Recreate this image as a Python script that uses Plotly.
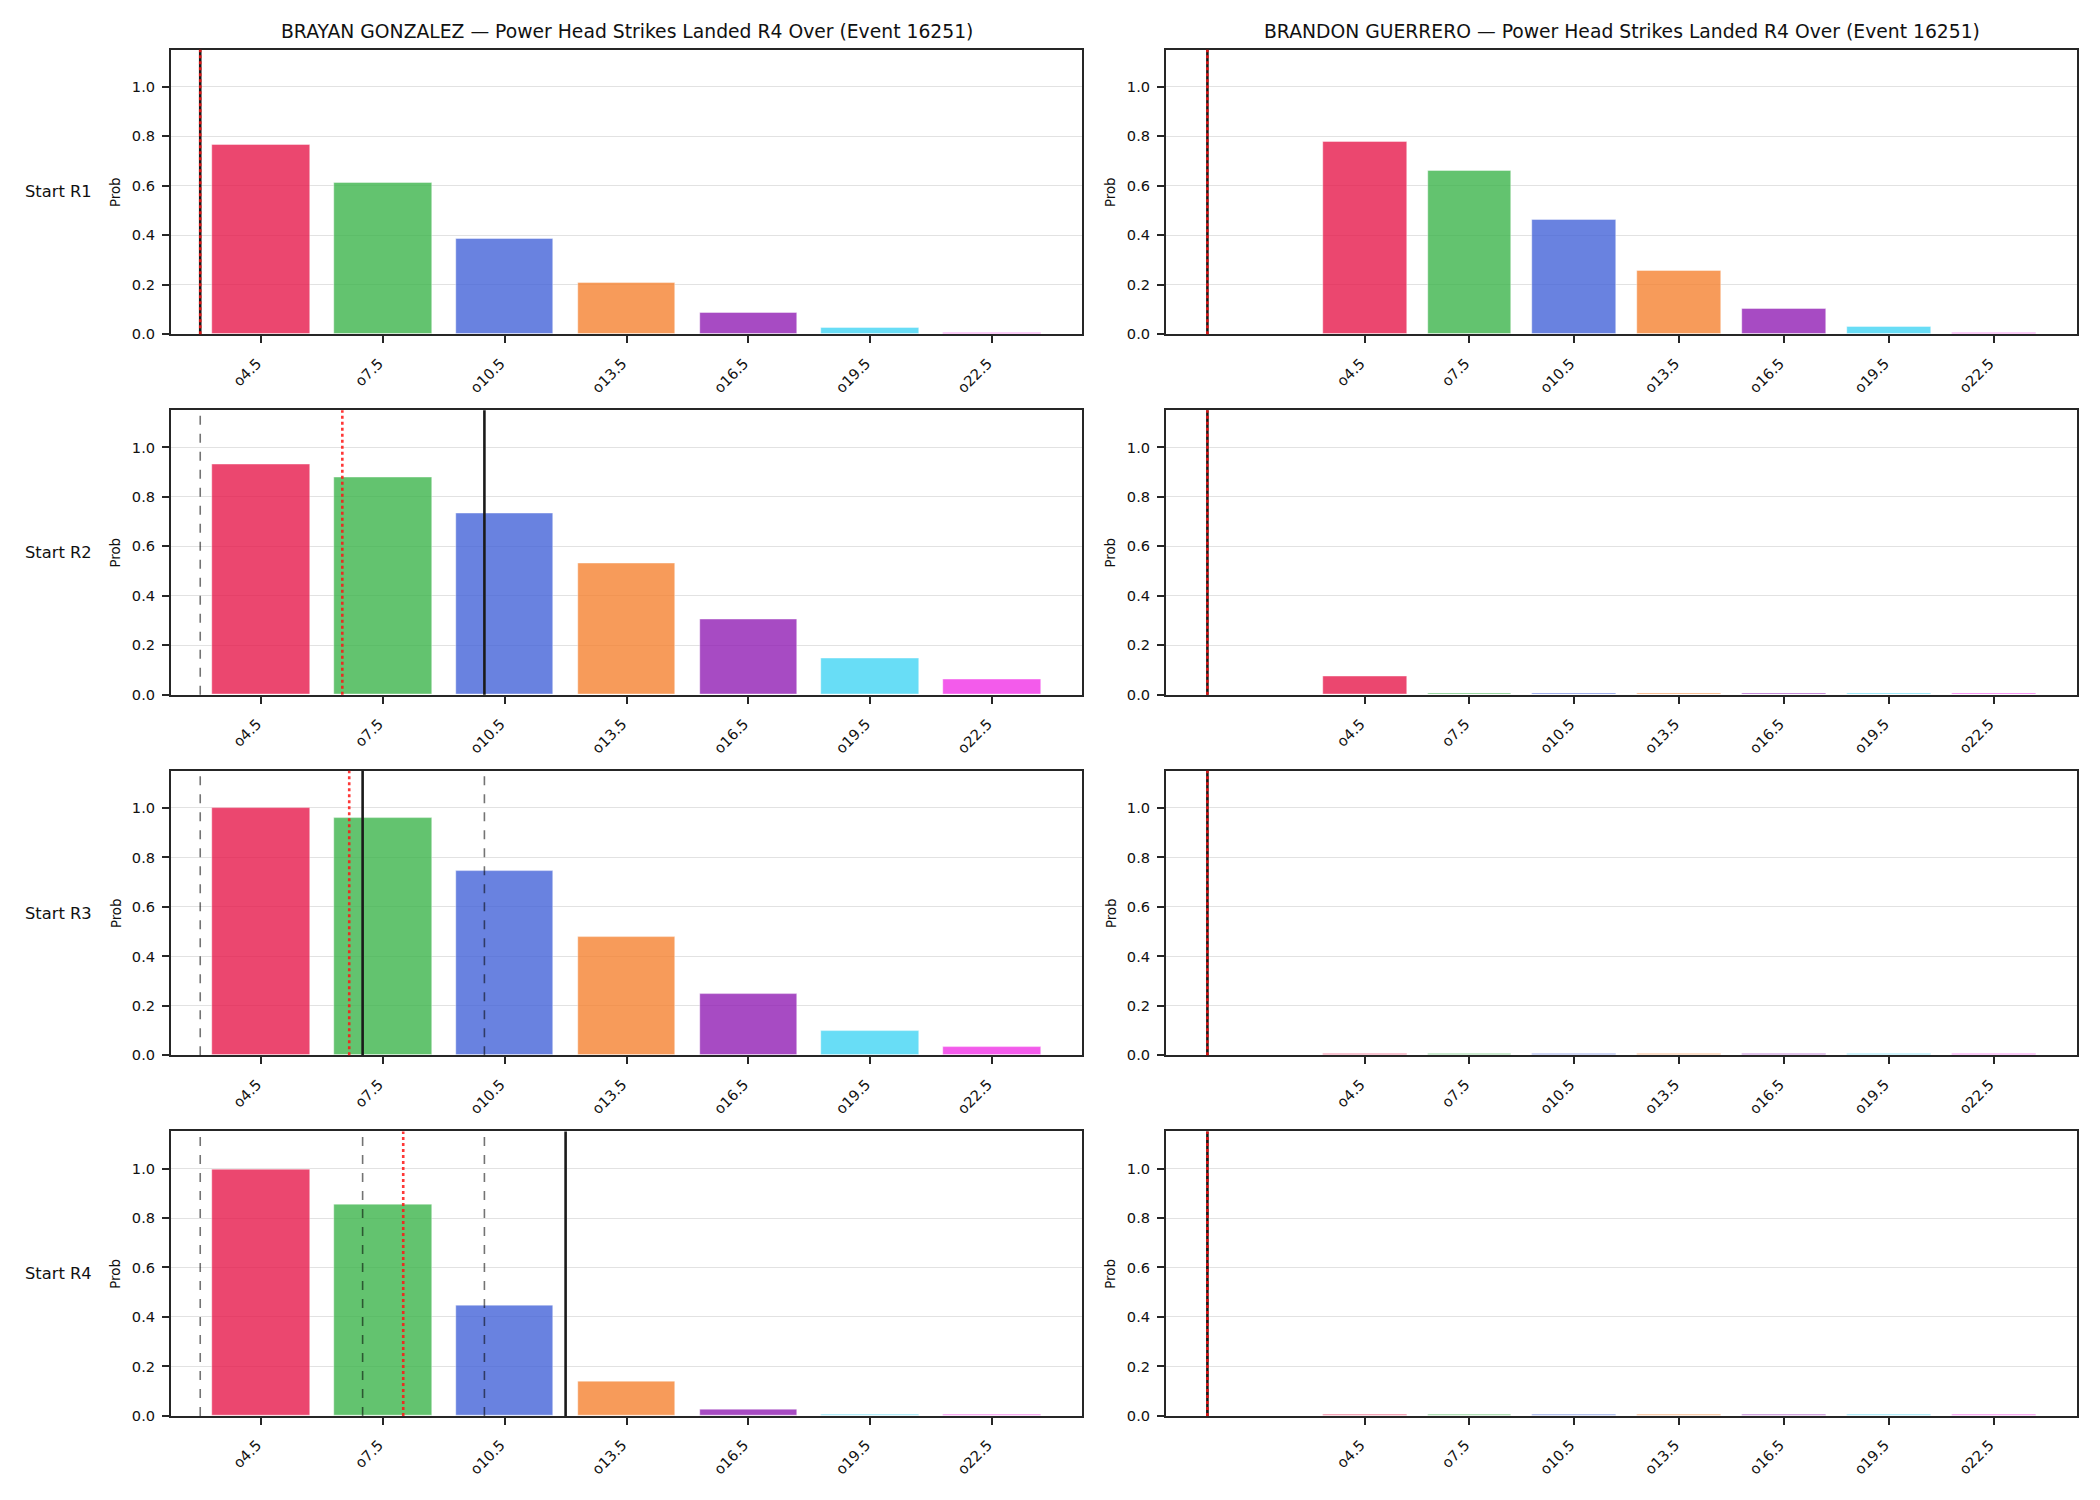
import plotly.graph_objects as go

# ---------------- data ----------------
thresholds = [4.5, 7.5, 10.5, 13.5, 16.5, 19.5, 22.5]
tick_labels = ["o4.5", "o7.5", "o10.5", "o13.5", "o16.5", "o19.5", "o22.5"]
row_labels = ["Start R1", "Start R2", "Start R3", "Start R4"]
fighters = ["BRAYAN GONZALEZ", "BRANDON GUERRERO"]
title_suffix = " — Power Head Strikes Landed R4 Over (Event 16251)"

bar_colors = ["#e6194b", "#3cb44b", "#4363d8", "#f58231", "#911eb4", "#42d4f4", "#f032e6"]

brayan_r1 = [0.768, 0.611, 0.385, 0.207, 0.085, 0.025, 0.007]
brayan_r2 = [0.932, 0.879, 0.734, 0.530, 0.307, 0.146, 0.062]
brayan_r3 = [0.999, 0.958, 0.745, 0.479, 0.248, 0.099, 0.035]
brayan_r4 = [0.996, 0.856, 0.447, 0.141, 0.027, 0.008, 0.008]

brandon_r1 = [0.780, 0.659, 0.462, 0.256, 0.103, 0.031, 0.008]
brandon_r2 = [0.076, 0.008, 0.008, 0.008, 0.008, 0.008, 0.008]
brandon_r3 = [0.008, 0.008, 0.008, 0.008, 0.008, 0.008, 0.008]
brandon_r4 = [0.008, 0.008, 0.008, 0.008, 0.008, 0.008, 0.008]

# reference markers (strike counts): prior actuals (gray dashed), current actual (black), projection (red dotted)
brayan_prior = [[], [3.0], [3.0, 10.0], [3.0, 10.0, 7.0]]
brayan_actual = [3.0, 10.0, 7.0, 12.0]
brayan_proj = [3.0, 6.5, 6.67, 8.0]

brandon_prior = [[], [0.0], [0.0, 0.0], [0.0, 0.0, 0.0]]
brandon_actual = [0.0, 0.0, 0.0, 0.0]
brandon_proj = [0.0, 0.0, 0.0, 0.0]

probs = [[brayan_r1, brayan_r2, brayan_r3, brayan_r4],
         [brandon_r1, brandon_r2, brandon_r3, brandon_r4]]
priors = [brayan_prior, brandon_prior]
actuals = [brayan_actual, brandon_actual]
projs = [brayan_proj, brandon_proj]
x_ranges = [[2.28, 24.72], [-1.185, 24.885]]

# ---------------- layout geometry ----------------
W, H = 2100, 1500
col_px = [(171, 1082), (1166, 2077)]
row_tops = [50, 412.5, 775, 1137.5]
ax_h = 286

def rgba(hexc, a):
    hexc = hexc.lstrip("#")
    r, g, b = int(hexc[0:2], 16), int(hexc[2:4], 16), int(hexc[4:6], 16)
    return f"rgba({r},{g},{b},{a})"

FONT = "DejaVu Sans"
AXC = "#262626"
TICK_SIZE = 14.6

fig = go.Figure()
layout = dict(
    width=W, height=H, margin=dict(l=0, r=0, t=0, b=0),
    paper_bgcolor="white", plot_bgcolor="white", showlegend=False,
    font=dict(family=FONT, color="#111111", size=TICK_SIZE), bargap=0,
)
shapes = []
annotations = []

k = 0
for c in range(2):
    for r in range(4):
        k += 1
        xa = "x" if k == 1 else f"x{k}"
        ya = "y" if k == 1 else f"y{k}"
        fig.add_trace(go.Bar(
            x=thresholds, y=probs[c][r], width=2.4,
            marker=dict(color=[rgba(col, 0.8) for col in bar_colors],
                        line=dict(color="rgba(255,255,255,0.8)", width=0.5)),
            xaxis=xa, yaxis=ya, hoverinfo="x+y",
        ))
        x0, x1 = col_px[c]
        top = row_tops[r]
        layout[f"xaxis{'' if k == 1 else k}"] = dict(
            domain=[x0 / W, x1 / W], anchor=ya, range=x_ranges[c],
            tickmode="array", tickvals=thresholds, ticktext=tick_labels,
            tickangle=-45, ticks="outside", ticklen=7, tickwidth=2, tickcolor=AXC,
            ticklabelstandoff=6, ticklabelshift=-4,
            showline=True, linecolor=AXC, linewidth=2, mirror=True,
            showgrid=False, zeroline=False, tickfont=dict(size=TICK_SIZE, family=FONT),
        )
        layout[f"yaxis{'' if k == 1 else k}"] = dict(
            domain=[1 - (top + ax_h) / H, 1 - top / H], anchor=xa, range=[0, 1.15],
            tickmode="array", tickvals=[0, 0.2, 0.4, 0.6, 0.8, 1.0], tickformat=".1f",
            ticks="outside", ticklen=7, tickwidth=2, tickcolor=AXC,
            ticklabelstandoff=4,
            showline=True, linecolor=AXC, linewidth=2, mirror=True,
            showgrid=True, gridcolor="rgba(190,190,190,0.45)", gridwidth=1,
            zeroline=False, layer="above traces", tickfont=dict(size=TICK_SIZE, family=FONT),
        )
        # vertical markers
        for pv in priors[c][r]:
            shapes.append(dict(type="line", xref=xa, yref=f"{ya} domain", x0=pv, x1=pv, y0=0, y1=1,
                               line=dict(color="rgba(0,0,0,0.55)", width=1.6, dash="dash")))
        av = actuals[c][r]
        shapes.append(dict(type="line", xref=xa, yref=f"{ya} domain", x0=av, x1=av, y0=0, y1=1,
                           line=dict(color="#1a1a1a", width=2.6)))
        rv = projs[c][r]
        shapes.append(dict(type="line", xref=xa, yref=f"{ya} domain", x0=rv, x1=rv, y0=0, y1=1,
                           line=dict(color="rgba(255,20,20,0.85)", width=2.6, dash="dot")))
        # "Prob" axis title
        annotations.append(dict(text="Prob", xref="paper", yref="paper",
                                x=(x0 - 55) / W, y=1 - (top + ax_h / 2) / H,
                                xanchor="center", yanchor="middle", textangle=-90,
                                showarrow=False, font=dict(size=13.3, family=FONT, color="#111111")))
        if c == 0:
            annotations.append(dict(text=row_labels[r], xref="paper", yref="paper",
                                    x=23 / W, y=1 - (top + ax_h / 2) / H,
                                    xanchor="left", yanchor="middle", showarrow=False,
                                    font=dict(size=16.3, family=FONT, color="#111111")))
    x0, x1 = col_px[c]
    annotations.append(dict(text=fighters[c] + title_suffix, xref="paper", yref="paper",
                            x=(x0 + x1) / 2 / W, y=1 - 32 / H, xanchor="center", yanchor="middle",
                            showarrow=False, font=dict(size=18.75, family=FONT, color="#111111")))

layout["shapes"] = shapes
layout["annotations"] = annotations
fig.update_layout(**layout)
fig.write_html("out.html")
